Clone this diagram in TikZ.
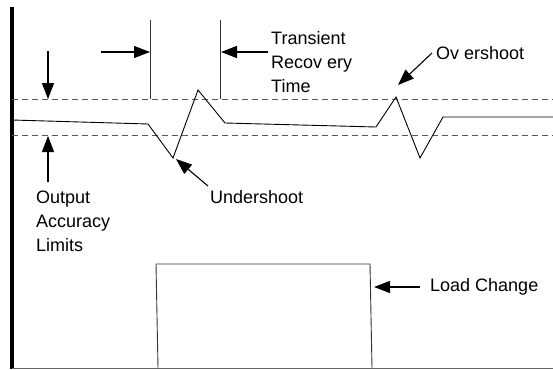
\documentclass[tikz,border=0pt]{standalone}
\usepackage{fontspec}
\setmainfont{Liberation Sans}
\usetikzlibrary{arrows.meta}
\begin{document}
\begin{tikzpicture}[x=1pt,y=-1pt,
  lbl/.style={inner sep=0pt,anchor=west,align=left,font=\fontsize{18}{24}\selectfont},
  bigarrow/.style={-{Triangle[length=16pt,width=12pt]},line width=1.1pt},
  limit/.style={dashed,dash pattern=on 6pt off 4pt,draw=black!65,line width=0.9pt},
  wave/.style={line width=0.9pt,black},
  marker/.style={line width=0.9pt,black!80}]
\useasboundingbox (0,0) rectangle (553,369);
% axes
\draw[line width=4pt] (12,7) -- (12,369);
\draw[line width=0.9pt,black!60] (12,368) -- (553,368);
% limits
\draw[limit] (12,99.5) -- (553,99.5);
\draw[limit] (12,135.5) -- (553,135.5);
% waveform
\draw[wave] (12,120) -- (148,124) -- (173,158) -- (198,90) -- (225,123) -- (376,127)
  -- (396,97) -- (420,158) -- (443,117) -- (553,117);
% load step
\draw[wave,black!80] (158,368) -- (156,264) -- (370,264) -- (372,368);
% transient markers
\coordinate (m1t) at (150,20); \coordinate (m1b) at (150,99);
\coordinate (m2t) at (220,20); \coordinate (m2b) at (220,99);
\draw[marker] (m1t) -- (m1b);
\draw[marker] (m2t) -- (m2b);
\coordinate (a1s) at (101,52); \coordinate (a1e) at (150,52);
\coordinate (a2s) at (268,52); \coordinate (a2e) at (221,52);
\draw[bigarrow] (a1s) -- (a1e);
\draw[bigarrow] (a2s) -- (a2e);
% limit arrows
\coordinate (v1s) at (48,51); \coordinate (v1e) at (48,99);
\coordinate (v2s) at (48,182); \coordinate (v2e) at (48,136);
\draw[bigarrow] (v1s) -- (v1e);
\draw[bigarrow] (v2s) -- (v2e);
% labels
\node[lbl] (trt) at (271,62) {Transient\\Recov ery\\Time};
\node[lbl] (oal) at (36,221) {Output\\Accuracy\\Limits};
\node[lbl] (und) at (210,197) {Undershoot};
\node[lbl] (ovs) at (436,53) {Ov ershoot};
\node[lbl] (ldc) at (430,287) {Load Change};
% pointer arrows
\coordinate (us) at (208,186); \coordinate (ue) at (176,159);
\coordinate (os) at (432,53); \coordinate (oe) at (398,85);
\coordinate (ls) at (420,287); \coordinate (le) at (374,287);
\draw[bigarrow] (us) -- (ue);
\draw[bigarrow] (os) -- (oe);
\draw[bigarrow] (ls) -- (le);
\end{tikzpicture}
\end{document}
